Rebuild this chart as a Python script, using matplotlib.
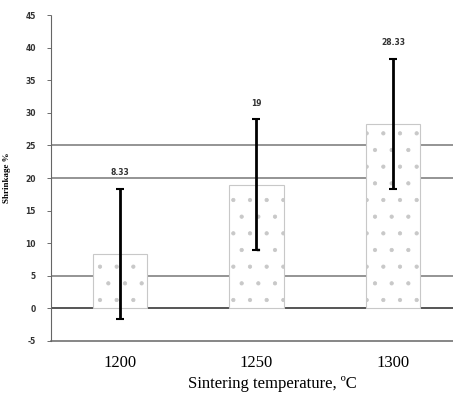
import matplotlib.pyplot as plt

# data
temps = ["1200", "1250", "1300"]
shrinkage = [8.33, 19, 28.33]
errors = [10, 10, 10]
value_labels = ["8.33", "19", "28.33"]
grid_levels = [0, 5, 20, 25]
yticks = [-5, 0, 5, 10, 15, 20, 25, 30, 35, 40, 45]

fig = plt.figure(figsize=(4.53, 3.96), dpi=100)
ax = fig.add_axes([0.1126, 0.139, 0.8874, 0.823])

x = list(range(len(temps)))

# gridlines (only the ones that survived in the scan)
for lvl in grid_levels:
    ax.axhline(lvl, color="#555555" if lvl == 0 else "#777777",
               lw=1.4 if lvl == 0 else 1.1, zorder=1)

plt.rcParams["hatch.linewidth"] = 0.6
bars = ax.bar(x, shrinkage, width=0.4, color="white", edgecolor="#c8c8c8",
              hatch=".", linewidth=0.8, zorder=2)
ax.errorbar(x, shrinkage, yerr=errors, fmt="none", ecolor="black",
            elinewidth=2, capsize=3, capthick=1.5, zorder=3)

for xi, val, err, lab in zip(x, shrinkage, errors, value_labels):
    ax.text(xi, val + err + 1.8, lab, ha="center", va="bottom",
            fontsize=5.5, fontweight="bold", color="#333333")

ax.set_xlim(-0.504, 2.44)
ax.set_ylim(-5, 45)
ax.set_yticks(yticks)
ax.set_yticklabels([str(t) for t in yticks], fontsize=5.5, fontweight="bold",
                   color="#333333")
ax.set_xticks(x)
ax.set_xticklabels(temps, fontsize=12, family="Liberation Serif")
ax.tick_params(axis="x", length=0, pad=10)
ax.tick_params(axis="y", length=3, width=0.6, color="#555555", pad=8)

ax.set_xlabel("Sintering temperature, ºC", fontsize=12,
              family="Liberation Serif")
ax.xaxis.set_label_coords(0.55, -0.107)
ax.set_ylabel("Shrinkage %", fontsize=6.5, family="Liberation Serif",
              fontweight="bold")
ax.yaxis.set_label_coords(-0.1, 0.5)

for side in ["top", "right"]:
    ax.spines[side].set_visible(False)
ax.spines["left"].set_linestyle((0, (2, 1)))
ax.spines["left"].set_color("#666666")
ax.spines["left"].set_linewidth(0.8)
ax.spines["bottom"].set_color("#666666")
ax.spines["bottom"].set_linewidth(1.1)

fig.savefig("out.png", dpi=100)
